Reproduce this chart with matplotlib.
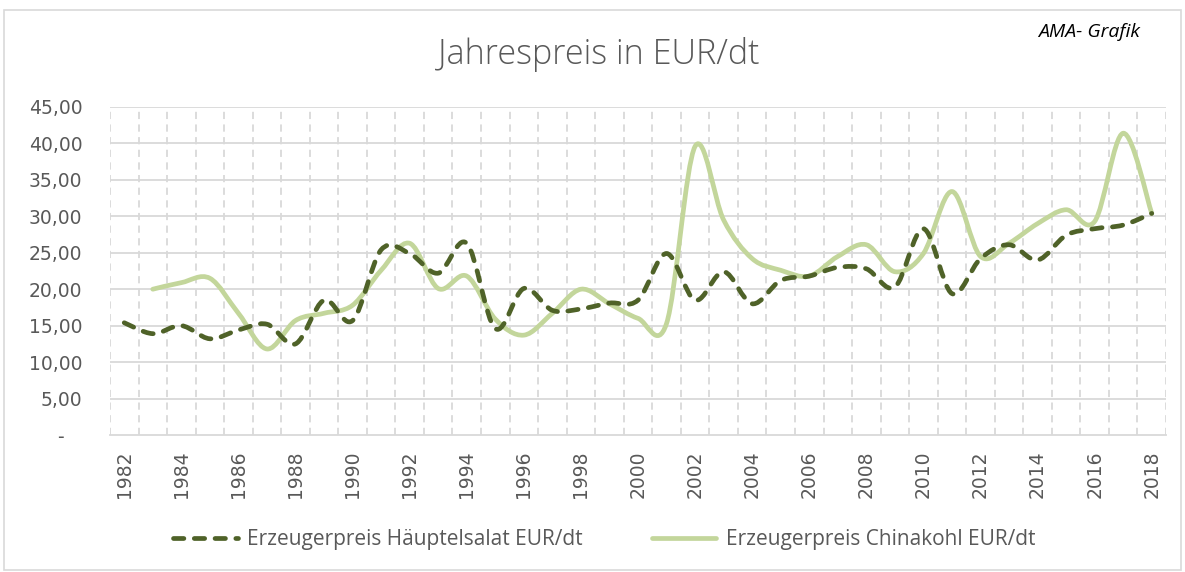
import matplotlib
matplotlib.use('Agg')
import matplotlib.pyplot as plt
from matplotlib.path import Path
from matplotlib.patches import PathPatch, Rectangle
from matplotlib.lines import Line2D

plt.rcParams['font.family'] = ['Open Sans', 'DejaVu Sans']

# Daten (Jahrespreise in EUR/dt)
jahre = list(range(1982, 2019))
salat = [15.4, 13.9, 15.0, 13.2, 14.4, 15.2, 12.5, 18.5, 15.7, 25.4,
         24.9, 22.2, 26.3, 14.6, 20.1, 17.1, 17.3, 18.1, 18.5, 24.9,
         18.5, 22.4, 18.0, 21.2, 21.8, 23.0, 22.8, 20.3, 28.3, 19.4,
         24.2, 26.1, 24.0, 27.4, 28.3, 28.8, 30.4]
# Chinakohl erst ab 1983
chinakohl = [20.0, 20.9, 21.5, 16.7, 11.8, 15.7, 16.7, 17.8, 22.6, 26.3,
             20.1, 21.8, 15.9, 13.7, 16.7, 20.0, 18.0, 16.0, 15.3, 39.6,
             29.5, 24.2, 22.6, 21.8, 24.5, 26.1, 22.4, 24.9, 33.4, 24.5,
             26.3, 29.0, 30.9, 29.3, 41.4, 30.4]

label_salat = "Erzeugerpreis Häuptelsalat EUR/dt"
label_kohl = "Erzeugerpreis Chinakohl EUR/dt"
c_salat = "#4F6228"
c_kohl = "#C3D69B"
grau = "#595959"


def glatte_linie(xs, ys):
    # geglättete Linie wie in Excel (Bezier durch die Datenpunkte)
    pts = list(zip(xs, ys))
    n = len(pts)
    verts = [pts[0]]
    codes = [Path.MOVETO]
    for i in range(n - 1):
        p0 = pts[i - 1] if i > 0 else pts[i]
        p1 = pts[i]
        p2 = pts[i + 1]
        p3 = pts[i + 2] if i + 2 < n else pts[i + 1]
        c1 = (p1[0] + (p2[0] - p0[0]) / 6, p1[1] + (p2[1] - p0[1]) / 6)
        c2 = (p2[0] - (p3[0] - p1[0]) / 6, p2[1] - (p3[1] - p1[1]) / 6)
        verts += [c1, c2, p2]
        codes += [Path.CURVE4] * 3
    return Path(verts, codes)


fig = plt.figure(figsize=(11.85, 5.72), dpi=100)
ax = fig.add_axes([0.0928, 0.2395, 0.8912, 0.5735])

x_salat = list(range(len(salat)))
x_kohl = list(range(1, 1 + len(chinakohl)))

ax.add_patch(PathPatch(glatte_linie(x_kohl, chinakohl), fill=False,
                       edgecolor=c_kohl, lw=3.4, capstyle='round',
                       joinstyle='round', zorder=3))
ax.add_patch(PathPatch(glatte_linie(x_salat, salat), fill=False,
                       edgecolor=c_salat, lw=3.4, capstyle='round',
                       joinstyle='round', linestyle=(0, (2.2, 2.2)), zorder=4))

ax.set_xlim(-0.5, len(jahre) - 0.5)
ax.set_ylim(0, 45)

# Achsen und Gitter
ax.set_yticks(range(0, 50, 5))
ax.set_yticklabels(['-   '] + ['%d,00' % v for v in range(5, 50, 5)],
                   family='DejaVu Sans')
ax.set_xticks(range(0, len(jahre), 2))
ax.set_xticklabels([str(j) for j in jahre[::2]], rotation=90,
                   family='DejaVu Sans')
ax.tick_params(axis='both', length=0, labelsize=13.5, labelcolor=grau)
ax.tick_params(axis='y', pad=20)
ax.tick_params(axis='x', pad=11)

for v in range(5, 50, 5):
    ax.axhline(v, color='#D9D9D9', lw=1.3, zorder=1)
for k in range(len(jahre) + 1):
    ax.axvline(k - 0.5, color='#D9D9D9', lw=1.3, ls=(0, (4, 3)), zorder=1)

for s in ['top', 'right', 'left']:
    ax.spines[s].set_visible(False)
ax.spines['bottom'].set_color('#D9D9D9')
ax.spines['bottom'].set_linewidth(1.3)

# Titel und Hinweis
fig.text(0.5055, 0.905, "Jahrespreis in EUR/dt", ha='center', va='center',
         fontsize=24.6, color=grau, fontweight='light')
fig.text(0.919, 0.944, "AMA- Grafik", ha='center', va='center',
         fontsize=14, style='italic', color='black')

# Legende
handles = [Line2D([], [], color=c_salat, lw=3.4, ls=(0, (2.2, 2.2)),
                  dash_capstyle='round'),
           Line2D([], [], color=c_kohl, lw=3.4, solid_capstyle='round')]
leg = fig.legend(handles, [label_salat, label_kohl], loc='center',
                 bbox_to_anchor=(0.51, 0.057), ncol=2, frameon=False,
                 fontsize=15, handlelength=3.1, handletextpad=0.45,
                 columnspacing=3.3)
for t in leg.get_texts():
    t.set_color(grau)

# Rahmen
fig.add_artist(Rectangle((0.003, 0.003), 0.994, 0.98, transform=fig.transFigure,
                         fill=False, edgecolor='#D9D9D9', lw=1.2))

fig.savefig('out.png', dpi=100)
